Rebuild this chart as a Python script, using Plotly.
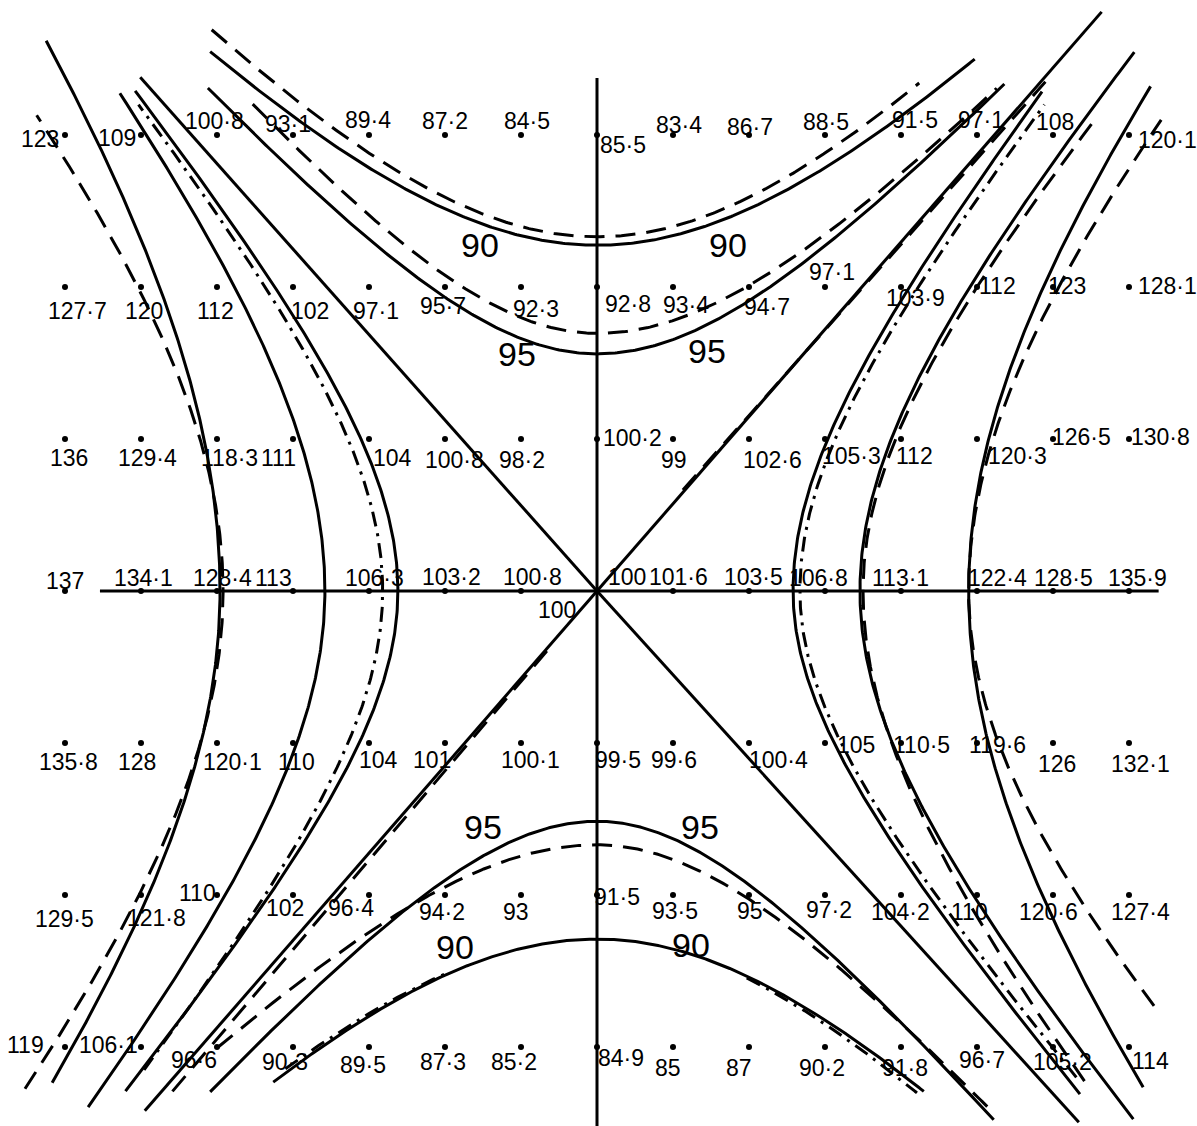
import numpy as np
import plotly.graph_objects as go

# ---------------------------------------------------------------
# Measured readings on a grid: columns every 1 unit, rows every 2 units
# ---------------------------------------------------------------
col_pos = list(range(-7, 8))
row_pos = [6, 4, 2, 0, -2, -4, -6]

readings = [
    [123, 109, 100.8, 93.1, 89.4, 87.2, 84.5, 85.5, 83.4, 86.7, 88.5, 91.5, 97.1, 108, 120.1],
    [127.7, 120, 112, 102, 97.1, 95.7, 92.3, 92.8, 93.4, 94.7, 97.1, 103.9, 112, 123, 128.1],
    [136, 129.4, 118.3, 111, 104, 100.8, 98.2, 100.2, 99, 102.6, 105.3, 112, 120.3, 126.5, 130.8],
    [137, 134.1, 128.4, 113, 106.3, 103.2, 100.8, 100, 101.6, 103.5, 106.8, 113.1, 122.4, 128.5, 135.9],
    [135.8, 128, 120.1, 110, 104, 101, 100.1, 99.5, 99.6, 100.4, 105, 110.5, 119.6, 126, 132.1],
    [129.5, 121.8, 110, 102, 96.4, 94.2, 93, 91.5, 93.5, 95, 97.2, 104.2, 110, 120.6, 127.4],
    [119, 106.1, 96.6, 90.3, 89.5, 87.3, 85.2, 84.9, 85, 87, 90.2, 91.8, 96.7, 105.2, 114],
]

# Contours opening up / down:  y = ±sqrt(a^2 + (s x)^2)
# (level, branch, kind, vertex a, slope left, slope right, x start, x end)
crest_curves = [
    (90, "top", "theory", 4.55, 1.07, 1.07, -5.09, 4.97),
    (90, "top", "measured", 4.66, 1.13, 1.13, -5.07, 4.24),
    (95, "top", "theory", 3.12, 1.14, 1.10, -5.12, 5.36),
    (95, "top", "measured", 3.39, 1.20, 1.08, -4.53, 5.26),
    (95, "bottom", "theory", 3.03, 1.15, 1.20, -5.09, 5.22),
    (95, "bottom", "measured", 3.34, 1.00, 1.15, -5.00, 5.22),
    (90, "bottom", "theory", 4.58, 1.07, 1.10, -4.26, 4.30),
    (90, "bottom", "chain", 4.58, 1.05, 1.13, -4.10, -2.00),
    (90, "bottom", "chain", 4.58, 1.05, 1.13, 1.97, 4.21),
]

# Contours opening left / right:  x = ±sqrt(c^2 + (y / s)^2)
# (level, side, kind, vertex c, slope below, slope above, y start, y end)
flank_curves = [
    (120, "left", "theory", 4.96, 1.25, 1.37, -6.47, 7.24),
    (120, "left", "measured", 4.92, 1.15, 1.14, -6.55, 6.26),
    (110, "left", "theory", 3.58, 1.20, 1.27, -6.79, 6.55),
    (105, "left", "theory", 2.62, 1.17, 1.20, -6.58, 6.58),
    (105, "left", "chain", 2.82, 1.20, 1.20, -6.30, 6.40),
    (105, "right", "theory", 2.58, 1.14, 1.25, -6.62, 6.57),
    (105, "right", "chain", 2.67, 1.12, 1.22, -6.40, 6.40),
    (110, "right", "theory", 3.46, 1.13, 1.15, -6.95, 7.09),
    (110, "right", "measured", 3.50, 1.20, 1.12, -6.45, 6.20),
    (120, "right", "theory", 4.89, 1.24, 1.23, -6.53, 6.64),
    (120, "right", "measured", 4.89, 1.00, 1.11, -5.46, 6.20),
]

# Level-100 lines through the centre: theoretical asymptotes and measured traces
asymptote_ends = [(-6.01, 6.76), (6.64, 7.62), (-5.95, -6.84), (6.34, -6.99)]
measured_100 = [((1.13, 1.33), (5.90, 6.70)), ((-0.66, -0.79), (-5.60, -6.60))]

# Reference axes
x_axis_extent = (-6.54, 7.39)
y_axis_extent = (-7.10, 6.75)

# Contour level captions: (text, x, y)
level_captions = [
    ("90", -1.54, 4.55), ("90", 1.72, 4.55),
    ("95", -1.05, 3.12), ("95", 1.45, 3.16),
    ("95", -1.50, -3.11), ("95", 1.36, -3.11),
    ("90", -1.87, -4.68), ("90", 1.24, -4.66),
    ("100", -0.53, -0.25),
]

# ---------------------------------------------------------------
# Drawing
# ---------------------------------------------------------------
PX = 76.0  # pixels per unit
LINE_W = 3
styles = {
    "theory": dict(color="black", width=LINE_W),
    "measured": dict(color="black", width=LINE_W, dash="20px,11px"),
    "chain": dict(color="black", width=LINE_W, dash="15px,7px,3px,7px"),
}

fig = go.Figure()


def add_line(x, y, kind):
    fig.add_trace(go.Scatter(x=x, y=y, mode="lines", line=styles[kind],
                             hoverinfo="skip", showlegend=False))


for level, branch, kind, a, s_l, s_r, x0, x1 in crest_curves:
    x = np.linspace(x0, x1, 400)
    s = np.where(x < 0, s_l, s_r)
    y = np.sqrt(a ** 2 + (s * x) ** 2)
    add_line(x, y if branch == "top" else -y, kind)

for level, side, kind, c, s_dn, s_up, y0, y1 in flank_curves:
    y = np.linspace(y0, y1, 400)
    s = np.where(y < 0, s_dn, s_up)
    x = np.sqrt(c ** 2 + (y / s) ** 2)
    add_line(-x if side == "left" else x, y, kind)

for ex, ey in asymptote_ends:
    add_line([0, ex], [0, ey], "theory")

for (ax, ay), (bx, by) in measured_100:
    add_line([ax, bx], [ay, by], "measured")

# axes
add_line(list(x_axis_extent), [0, 0], "theory")
add_line([0, 0], list(y_axis_extent), "theory")

# measuring points
gx = [c for r in row_pos for c in col_pos]
gy = [r for r in row_pos for c in col_pos]
fig.add_trace(go.Scatter(x=gx, y=gy, mode="markers",
                         marker=dict(color="black", size=6),
                         hoverinfo="skip", showlegend=False))

# label offsets (pixels right, pixels down) for each reading
label_offsets = [
    [(-25, 4), (-24, 3), (-3, -14), (-5, -11), (-1, -15), (0, -14), (6, -14), (26, 10),
     (6, -10), (1, -8), (1, -13), (14, -15), (4, -15), (2, -13), (38, 5)],
    [(12, 24), (3, 24), (-2, 24), (17, 24), (7, 24), (-2, 19), (15, 22), (31, 17),
     (13, 18), (18, 20), (7, -15), (14, 11), (20, -1), (14, -1), (38, -1)],
    [(4, 19), (6, 19), (12, 19), (-15, 19), (23, 19), (9, 21), (1, 21), (35, -1),
     (1, 21), (23, 21), (26, 17), (13, 17), (40, 17), (28, -2), (31, -2)],
    [(0, -10), (2, -13), (5, -13), (-20, -13), (5, -13), (6, -14), (11, -14), (30, -14),
     (5, -14), (4, -14), (-7, -13), (-1, -13), (20, -13), (10, -13), (8, -13)],
    [(3, 19), (-4, 19), (15, 19), (3, 19), (9, 17), (-13, 17), (9, 17), (21, 17),
     (1, 17), (29, 17), (31, 2), (20, 2), (20, 2), (4, 21), (11, 21)],
    [(-1, 24), (15, 23), (-20, -2), (-8, 13), (-18, 13), (-3, 17), (-5, 17), (20, 2),
     (2, 16), (1, 16), (4, 15), (-1, 17), (-8, 17), (-5, 17), (11, 17)],
    [(-40, -2), (-33, -2), (-23, 13), (-8, 15), (-6, 18), (-2, 15), (-7, 15), (24, 11),
     (-5, 21), (-10, 21), (-3, 21), (4, 21), (5, 13), (9, 15), (21, 14)],
]


def fmt(v):
    if float(v).is_integer():
        return str(int(v))
    return f"{v:.1f}".replace(".", "\u00b7")


LABEL_FONT = dict(family="Liberation Sans, Arial, sans-serif", size=23, color="black")
annotations = []
for ri, r in enumerate(row_pos):
    for ci, c in enumerate(col_pos):
        dx, dy = label_offsets[ri][ci]
        annotations.append(dict(x=c, y=r, text=fmt(readings[ri][ci]), showarrow=False,
                                xshift=dx, yshift=-dy, font=LABEL_FONT,
                                xanchor="center", yanchor="middle"))

for text, x, y in level_captions:
    big = len(text) == 2
    annotations.append(dict(x=x, y=y, text=text, showarrow=False,
                            font=dict(family="Liberation Sans, Arial, sans-serif",
                                      size=34 if big else 23, color="black"),
                            xanchor="center", yanchor="middle"))

W, H = 1197, 1126
cx, cy = 597, 591
fig.update_layout(
    width=W, height=H,
    margin=dict(l=0, r=0, t=0, b=0),
    paper_bgcolor="white", plot_bgcolor="white",
    showlegend=False,
    annotations=annotations,
    xaxis=dict(range=[-cx / PX, (W - cx) / PX], visible=False, fixedrange=True),
    yaxis=dict(range=[-(H - cy) / PX, cy / PX], visible=False, fixedrange=True),
)

fig.write_html("out.html")
